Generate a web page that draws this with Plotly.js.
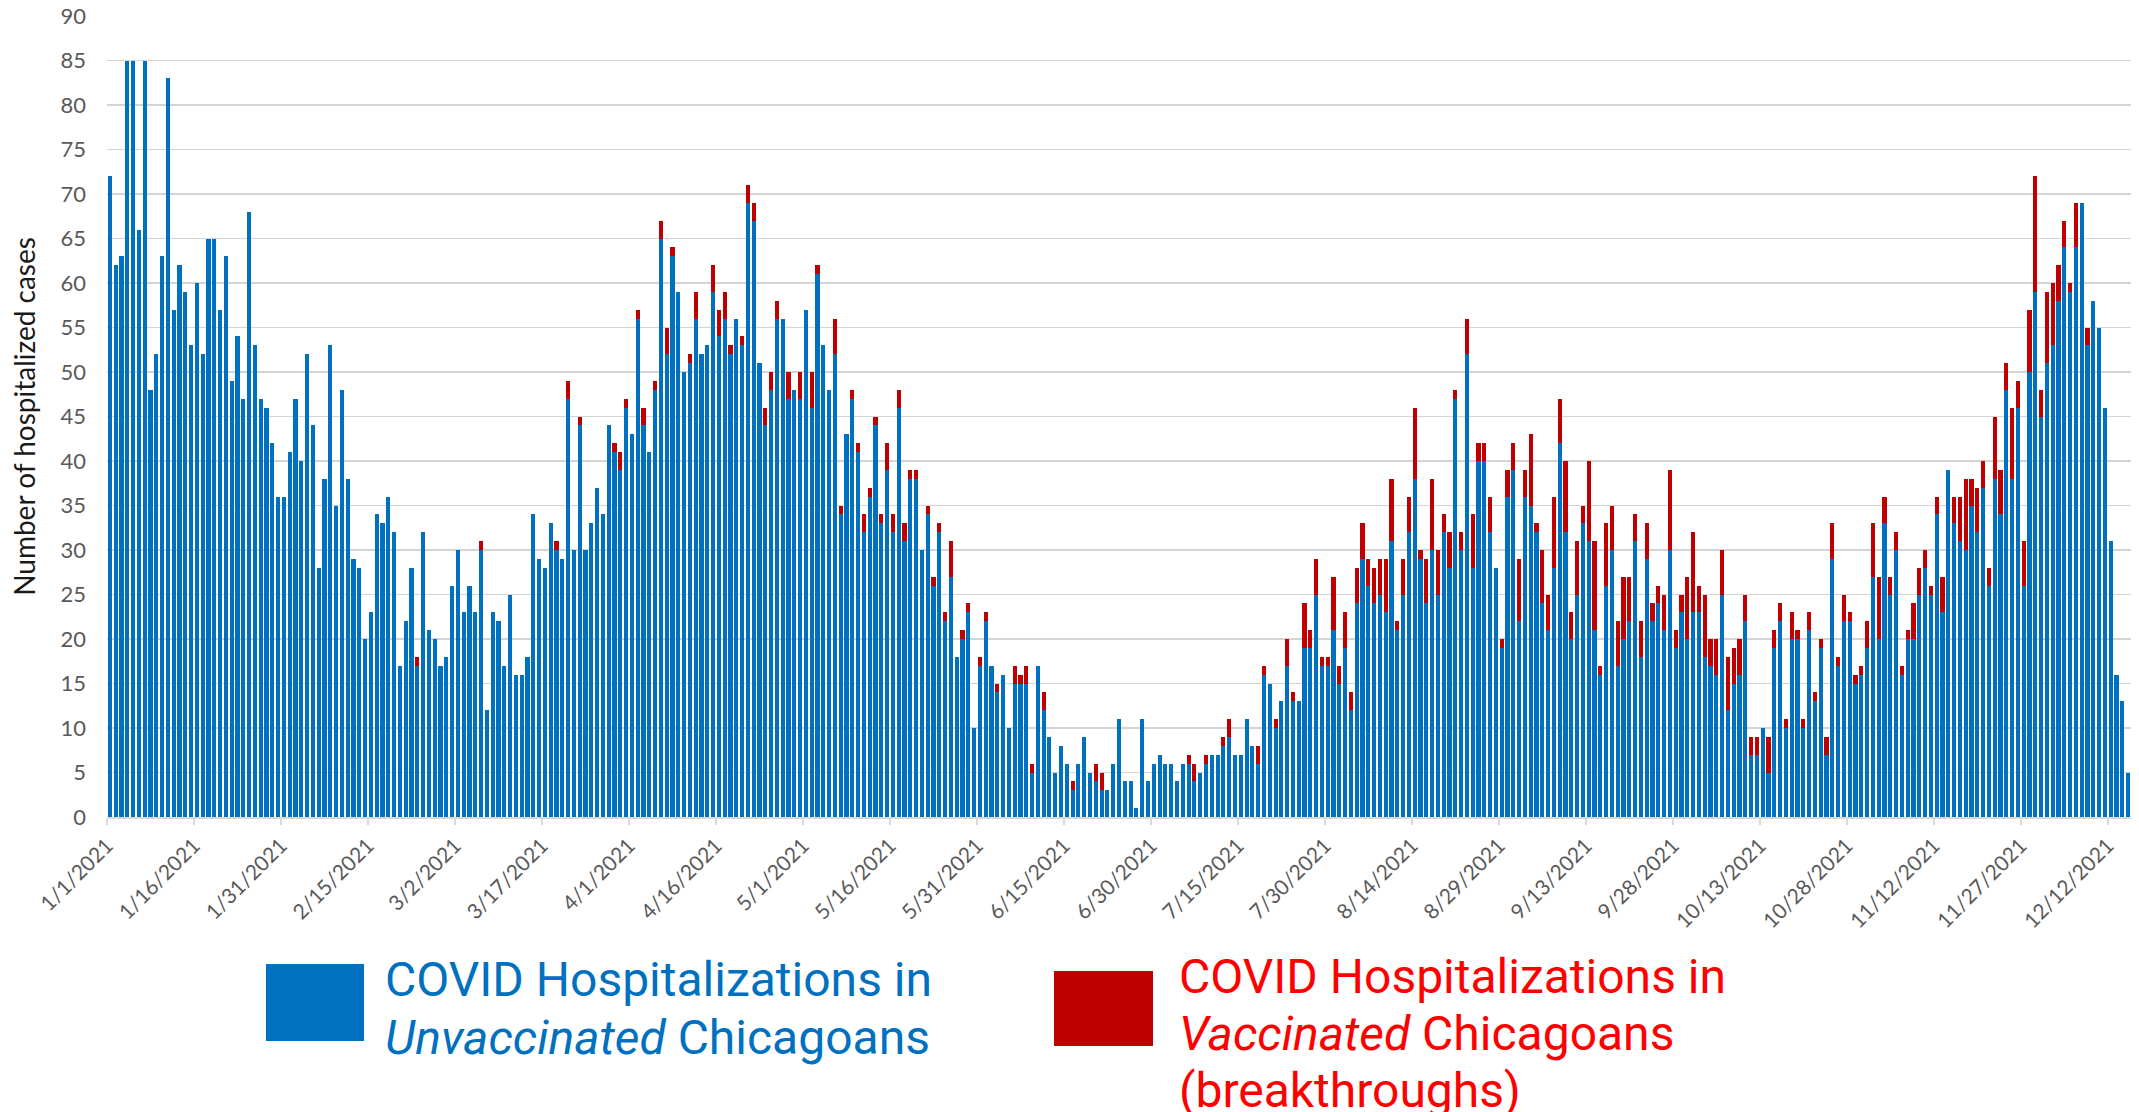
<!DOCTYPE html>
<html>
<head>
<meta charset="utf-8">
<script src="https://cdn.plot.ly/plotly-3.0.1.min.js"></script>
<style>
  html, body { margin: 0; padding: 0; background: #ffffff; }
  #chart { width: 2139px; height: 1112px; }
</style>
</head>
<body>
<div id="chart"></div>
<script>
// ---- Data (daily, 1/1/2021 .. 12/15/2021) ----
const startDate = '2021-01-01';

const unvaccinated = [
  72, 62, 63, 85, 85, 66, 85, 48, 52, 63, 83, 57, 62, 59, 53, 60, 52, 65, 65, 57, 63, 49, 54, 47, 68, 53, 47, 46,
  42, 36, 36, 41, 47, 40, 52, 44, 28, 38, 53, 35, 48, 38, 29, 28, 20, 23, 34, 33, 36, 32, 17, 22, 28, 17, 32, 21, 20, 17,
  18, 26, 30, 23, 26, 23, 30, 12, 23, 22, 17, 25, 16, 16, 18, 34, 29, 28, 33, 30, 29, 47, 30, 44, 30, 33, 37, 34, 44,
  41, 39, 46, 43, 56, 44, 41, 48, 65, 52, 63, 59, 50, 51, 56, 52, 53, 59, 54, 56, 52, 56, 53, 69, 67, 51, 44, 48, 56,
  56, 47, 48, 47, 57, 46, 61, 53, 48, 52, 34, 43, 47, 41, 32, 36, 44, 33, 39, 32, 46, 31, 38, 38, 30, 34, 26, 32, 22, 27,
  18, 20, 23, 10, 17, 22, 17, 14, 16, 10, 15, 15, 15, 5, 17, 12, 9, 5, 8, 6, 3, 6, 9, 5, 4, 3, 3, 6, 11,
  4, 4, 1, 11, 4, 6, 7, 6, 6, 4, 6, 6, 4, 5, 6, 7, 7, 8, 9, 7, 7, 11, 8, 6, 16, 15, 10, 13, 17,
  13, 13, 19, 19, 25, 17, 17, 21, 15, 19, 12, 24, 29, 26, 24, 25, 23, 31, 21, 25, 32, 38, 29, 24, 30, 25, 32, 28, 47, 30,
  52, 28, 40, 40, 32, 28, 19, 36, 39, 22, 36, 35, 32, 24, 21, 28, 42, 32, 20, 25, 33, 31, 21, 16, 26, 30, 17, 20, 22,
  31, 18, 29, 22, 24, 21, 30, 19, 23, 20, 23, 23, 18, 17, 16, 25, 12, 15, 16, 22, 7, 7, 10, 5, 19, 22, 10, 20, 20,
  10, 21, 13, 19, 7, 29, 17, 22, 22, 15, 16, 19, 27, 20, 33, 25, 30, 16, 20, 20, 25, 28, 25, 34, 23, 39, 33, 31, 30,
  35, 32, 37, 26, 38, 34, 48, 38, 46, 26, 50, 59, 45, 51, 53, 58, 64, 59, 64, 69, 53, 58, 55, 46, 31, 16, 13, 5
];

const vaccinated = [
  0, 0, 0, 0, 0, 0, 0, 0, 0, 0, 0, 0, 0, 0, 0, 0, 0, 0, 0, 0, 0, 0, 0, 0, 0, 0, 0, 0,
  0, 0, 0, 0, 0, 0, 0, 0, 0, 0, 0, 0, 0, 0, 0, 0, 0, 0, 0, 0, 0, 0, 0, 0, 0, 1, 0, 0, 0, 0,
  0, 0, 0, 0, 0, 0, 1, 0, 0, 0, 0, 0, 0, 0, 0, 0, 0, 0, 0, 1, 0, 2, 0, 1, 0, 0, 0, 0, 0,
  1, 2, 1, 0, 1, 2, 0, 1, 2, 3, 1, 0, 0, 1, 3, 0, 0, 3, 3, 3, 1, 0, 1, 2, 2, 0, 2, 2, 2,
  0, 3, 0, 3, 0, 4, 1, 0, 0, 4, 1, 0, 1, 1, 2, 1, 1, 1, 3, 2, 2, 2, 1, 1, 0, 1, 1, 1, 1, 4,
  0, 1, 1, 0, 1, 1, 0, 1, 0, 0, 2, 1, 2, 1, 0, 2, 0, 0, 0, 0, 1, 0, 0, 0, 2, 2, 0, 0, 0,
  0, 0, 0, 0, 0, 0, 0, 0, 0, 0, 0, 1, 2, 0, 1, 0, 0, 1, 2, 0, 0, 0, 0, 2, 1, 0, 1, 0, 3,
  1, 0, 5, 2, 4, 1, 1, 6, 2, 4, 2, 4, 4, 3, 4, 4, 6, 7, 1, 4, 4, 8, 1, 5, 8, 5, 2, 4, 1, 2,
  4, 6, 2, 2, 4, 0, 1, 3, 3, 7, 3, 8, 1, 6, 4, 8, 5, 8, 3, 6, 2, 9, 10, 1, 7, 5, 5, 7, 5,
  3, 4, 4, 2, 2, 4, 9, 2, 2, 7, 9, 3, 7, 3, 4, 5, 6, 4, 4, 3, 2, 2, 0, 4, 2, 2, 1, 3, 1,
  1, 2, 1, 1, 2, 4, 1, 3, 1, 1, 1, 3, 6, 7, 3, 2, 2, 1, 1, 4, 3, 2, 1, 2, 4, 0, 3, 5, 8,
  3, 5, 3, 2, 7, 5, 3, 8, 3, 5, 7, 13, 3, 8, 7, 4, 3, 1, 5, 0, 2, 0, 0, 0, 0, 0, 0, 0
];

const seriesNames = ['COVID Hospitalizations in Unvaccinated Chicagoans',
                     'COVID Hospitalizations in Vaccinated Chicagoans (breakthroughs)'];
const legendLinesBlue = ['COVID Hospitalizations in', '<i>Unvaccinated</i> Chicagoans'];
const legendLinesRed = ['COVID Hospitalizations in', '<i>Vaccinated</i> Chicagoans', '(breakthroughs)'];
const yTitle = 'Number of hospitalized cases';

// category dates
const dates = unvaccinated.map((_, i) => {
  const d = new Date(Date.parse(startDate + 'T00:00:00Z') + i * 86400000);
  return d.toISOString().slice(0, 10);
});
const endDate = new Date(Date.parse(startDate + 'T00:00:00Z') + unvaccinated.length * 86400000)
  .toISOString().slice(0, 10);

const BLUE = '#0070C0', RED = '#C00000';

const traces = [
  { type: 'bar', name: seriesNames[0], x: dates, y: unvaccinated,
    xperiod: 86400000, xperiodalignment: 'middle',
    marker: { color: BLUE, line: { width: 0 } }, hoverinfo: 'x+y' },
  { type: 'bar', name: seriesNames[1], x: dates, y: vaccinated,
    xperiod: 86400000, xperiodalignment: 'middle',
    marker: { color: RED, line: { width: 0 } }, hoverinfo: 'x+y' }
];

// plot area in pixels
const W = 2139, H = 1112;
const L = 107, R = 8, T = 16, B = 295;
const pw = W - L - R, ph = H - T - B;
const px = x => (x - L) / pw;
const py = y => (H - B - y) / ph;

const legendFont = { family: 'Roboto, Arial, sans-serif', size: 48 };
const annotations = [];
legendLinesBlue.forEach((t, k) => annotations.push({
  xref: 'paper', yref: 'paper', x: px(383), y: py(979 + k * 58), xanchor: 'left', yanchor: 'middle',
  text: t, showarrow: false, font: Object.assign({ color: BLUE }, legendFont)
}));
legendLinesRed.forEach((t, k) => annotations.push({
  xref: 'paper', yref: 'paper', x: px(1177), y: py(976 + k * 57), xanchor: 'left', yanchor: 'middle',
  text: t, showarrow: false, font: Object.assign({ color: '#FF0000' }, legendFont)
}));

const shapes = [
  { type: 'rect', xref: 'paper', yref: 'paper', x0: px(266), x1: px(364), y0: py(1041), y1: py(964),
    fillcolor: BLUE, line: { width: 0 } },
  { type: 'rect', xref: 'paper', yref: 'paper', x0: px(1054), x1: px(1153), y0: py(1046), y1: py(971),
    fillcolor: RED, line: { width: 0 } }
];

const layout = {
  width: W, height: H,
  margin: { l: L, r: R, t: T, b: B, pad: 0 },
  paper_bgcolor: '#ffffff', plot_bgcolor: '#ffffff',
  barmode: 'stack', bargap: 0.28,
  showlegend: false,
  font: { family: 'Lato, "Open Sans", sans-serif', color: '#595959', size: 21 },
  xaxis: {
    type: 'date',
    range: [startDate, endDate],
    tickmode: 'linear', tick0: startDate, dtick: 15 * 86400000,
    tickformat: '%-m/%-d/%Y',
    tickangle: -45,
    ticks: 'outside', ticklen: 6, tickcolor: '#d9d9d9', tickwidth: 2,
    showline: true, linecolor: '#d9d9d9', linewidth: 2,
    showgrid: false, zeroline: false,
    tickfont: { size: 21, color: '#595959' }
  },
  yaxis: {
    range: [0, 90], dtick: 5, tick0: 0,
    showgrid: true, gridcolor: '#d4d4d4', gridwidth: 1.5,
    zeroline: false, showline: false, ticks: '',
    ticklabelstandoff: 20,
    tickfont: { size: 22, color: '#595959' },
    title: { text: yTitle, font: { size: 28, color: '#1a1a1a' }, standoff: 16 }
  },
  annotations, shapes
};

Plotly.newPlot('chart', traces, layout, { displayModeBar: false, staticPlot: true });
</script>
</body>
</html>
